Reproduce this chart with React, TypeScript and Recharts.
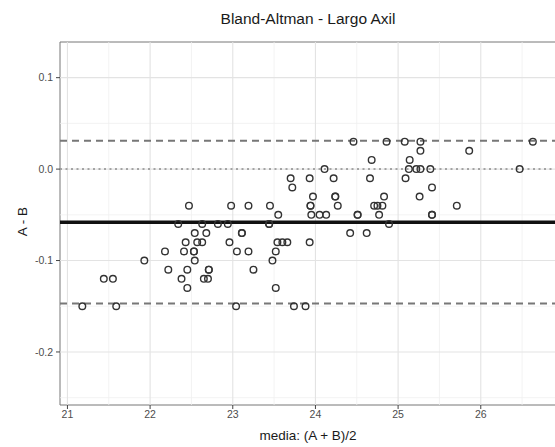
import {
  ScatterChart,
  Scatter,
  XAxis,
  YAxis,
  ReferenceLine,
  ReferenceArea,
} from "recharts";

// mean of the two measurements, (A + B)/2
const mediaAB = [
  21.18, 21.59, 23.04, 23.74, 23.88,
  22.45, 23.52,
  21.44, 21.55, 22.38, 22.65, 22.7,
  22.22, 22.45, 22.71, 22.71, 23.25,
  21.93, 22.54, 23.48,
  22.18, 22.41, 22.53, 22.53, 23.05, 23.19, 23.52,
  22.43, 22.57, 22.63, 22.96, 23.54, 23.6, 23.66, 23.93,
  22.54, 22.68, 23.11, 23.11, 24.42, 24.62,
  22.34, 22.63, 22.82, 22.94, 23.44, 23.44, 24.89,
  23.55, 23.95, 24.05, 24.13, 24.51, 24.51, 24.77, 25.41, 25.41,
  22.47, 22.98, 23.19, 23.45, 23.94, 23.94, 24.27, 24.71, 24.75, 24.81, 25.71,
  23.97, 24.24, 24.24, 24.83, 25.26,
  23.72, 25.41,
  23.7, 23.93, 24.22, 24.66, 25.09,
  24.11, 25.13, 25.22, 25.27, 25.39, 26.47,
  24.68, 25.14,
  25.27, 25.86,
  24.46, 24.86, 25.08, 25.27, 26.63,
];

// difference A - B, same order as mediaAB
const diffAB = [
  -0.15, -0.15, -0.15, -0.15, -0.15,
  -0.13, -0.13,
  -0.12, -0.12, -0.12, -0.12, -0.12,
  -0.11, -0.11, -0.11, -0.11, -0.11,
  -0.1, -0.1, -0.1,
  -0.09, -0.09, -0.09, -0.09, -0.09, -0.09, -0.09,
  -0.08, -0.08, -0.08, -0.08, -0.08, -0.08, -0.08, -0.08,
  -0.07, -0.07, -0.07, -0.07, -0.07, -0.07,
  -0.06, -0.06, -0.06, -0.06, -0.06, -0.06, -0.06,
  -0.05, -0.05, -0.05, -0.05, -0.05, -0.05, -0.05, -0.05, -0.05,
  -0.04, -0.04, -0.04, -0.04, -0.04, -0.04, -0.04, -0.04, -0.04, -0.04, -0.04,
  -0.03, -0.03, -0.03, -0.03, -0.03,
  -0.02, -0.02,
  -0.01, -0.01, -0.01, -0.01, -0.01,
  0, 0, 0, 0, 0, 0,
  0.01, 0.01,
  0.02, 0.02,
  0.03, 0.03, 0.03, 0.03, 0.03,
];

const xTicks = [21, 22, 23, 24, 25, 26];
const xMinor = [21.5, 22.5, 23.5, 24.5, 25.5, 26.5];
const yTicks = [-0.2, -0.1, 0, 0.1];
const yMinor = [-0.25, -0.15, -0.05, 0.05];

// bias and limits of agreement
const meanDiff = -0.058;
const upperLoA = 0.031;
const lowerLoA = -0.147;

const xDomain: [number, number] = [20.91, 26.91];
const yDomain: [number, number] = [-0.258, 0.139];

const points = mediaAB.map((x, i) => ({ x, y: diffAB[i] }));

const font = "'Liberation Sans', Arial, sans-serif";

function OpenCircle(props: any) {
  const { cx, cy } = props;
  return (
    <circle
      cx={cx}
      cy={cy}
      r={3.3}
      fill="none"
      stroke="#333"
      strokeWidth={1.4}
    />
  );
}

export default function App() {
  return (
    <div
      style={{
        position: "absolute",
        left: 0,
        top: 0,
        width: 555,
        height: 447,
        overflow: "hidden",
        background: "#fff",
        fontFamily: font,
      }}
    >
      <ScatterChart
        width={560}
        height={447}
        margin={{ top: 42, right: 4, bottom: 0, left: 0 }}
      >
        {xMinor.map((v) => (
          <ReferenceLine key={"xm" + v} x={v} stroke="#f0f0f0" strokeWidth={0.8} />
        ))}
        {yMinor.map((v) => (
          <ReferenceLine key={"ym" + v} y={v} stroke="#f0f0f0" strokeWidth={0.8} />
        ))}
        {xTicks.map((v) => (
          <ReferenceLine key={"x" + v} x={v} stroke="#e3e3e3" strokeWidth={1.1} />
        ))}
        {yTicks.map((v) => (
          <ReferenceLine key={"y" + v} y={v} stroke="#e3e3e3" strokeWidth={1.1} />
        ))}
        <XAxis
          type="number"
          dataKey="x"
          domain={xDomain}
          ticks={xTicks}
          allowDataOverflow
          height={42}
          tickSize={4}
          tickMargin={2}
          axisLine={false}
          tickLine={{ stroke: "#444" }}
          tick={{ fill: "#4d4d4d", fontSize: 10.5, fontFamily: font }}
        />
        <YAxis
          type="number"
          dataKey="y"
          domain={yDomain}
          ticks={yTicks}
          allowDataOverflow
          width={60}
          tickSize={4}
          tickMargin={3}
          axisLine={false}
          tickLine={{ stroke: "#444" }}
          tick={{ fill: "#4d4d4d", fontSize: 10.5, fontFamily: font }}
          tickFormatter={(v: number) => v.toFixed(1)}
        />
        <ReferenceLine y={0} stroke="#8c8c8c" strokeWidth={1.5} strokeDasharray="2 3.5" />
        <ReferenceLine y={upperLoA} stroke="#777" strokeWidth={2} strokeDasharray="7 5" />
        <ReferenceLine y={lowerLoA} stroke="#777" strokeWidth={2} strokeDasharray="7 5" />
        <ReferenceLine y={meanDiff} stroke="#111" strokeWidth={3.5} />
        <Scatter data={points} shape={OpenCircle} isAnimationActive={false} />
        <ReferenceArea
          x1={xDomain[0]}
          x2={xDomain[1]}
          y1={yDomain[0]}
          y2={yDomain[1]}
          fill="none"
          fillOpacity={0}
          stroke="#777"
          strokeWidth={1}
          ifOverflow="visible"
        />
      </ScatterChart>
      <div
        style={{
          position: "absolute",
          left: 60,
          width: 496,
          top: 10,
          textAlign: "center",
          fontSize: 15.5,
          color: "#1a1a1a",
        }}
      >
        Bland-Altman - Largo Axil
      </div>
      <div
        style={{
          position: "absolute",
          left: 60,
          width: 496,
          top: 428,
          textAlign: "center",
          fontSize: 13.5,
          color: "#1a1a1a",
        }}
      >
        media: (A + B)/2
      </div>
      <div
        style={{
          position: "absolute",
          left: -28,
          width: 100,
          top: 214,
          textAlign: "center",
          fontSize: 13.5,
          color: "#1a1a1a",
          transform: "rotate(-90deg)",
        }}
      >
        A - B
      </div>
    </div>
  );
}
